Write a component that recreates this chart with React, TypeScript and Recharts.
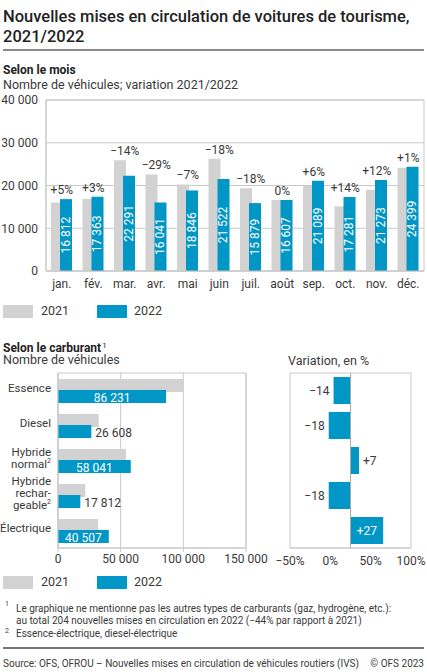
import type { ReactNode } from 'react'
import {
  ComposedChart, BarChart, Bar, Line, XAxis, YAxis,
  CartesianGrid, LabelList, ReferenceArea, ReferenceLine,
} from 'recharts'

// monthly registrations
const MONTHS = ['jan.', 'fév.', 'mar.', 'avr.', 'mai', 'juin', 'juil.', 'août', 'sep.', 'oct.', 'nov.', 'déc.']
const MONTH_2021 = [16010, 16860, 25920, 22590, 20260, 26250, 19370, 16610, 19900, 15160, 18990, 24160]
const MONTH_2022 = [16812, 17363, 22291, 16041, 18846, 21522, 15879, 16607, 21089, 17281, 21273, 24399]
const MONTH_VAR = ['+5%', '+3%', '−14%', '−29%', '−7%', '−18%', '−18%', '0%', '+6%', '+14%', '+12%', '+1%']
const MONTH_TICKS = [0, 10000, 20000, 30000, 40000]

// by fuel
const FUELS = ['Essence', 'Diesel', 'Hybride normal', 'Hybride rechargeable', 'Électrique']
const FUEL_LINES = [['Essence'], ['Diesel'], ['Hybride', 'normal'], ['Hybride', 'rechar-', 'geable'], ['Électrique']]
const FUEL_NOTES = ['', '', '2', '2', '']
const FUEL_2021 = [100270, 32450, 54240, 21720, 31900]
const FUEL_2022 = [86231, 26608, 58041, 17812, 40507]
const FUEL_VAR = [-14, -18, 7, -18, 27]
const FUEL_TICKS = [0, 50000, 100000, 150000]
const VAR_TICKS = [-50, 0, 50, 100]

const BLUE = '#0096c6'
const GREY = '#d2d2d2'
const GRID = '#c9c9c9'
const TXT = '#3a3a3a'
const FONT = 'Roboto, "Noto Sans", sans-serif'

const fmt = (n: number) => String(n).replace(/\B(?=(\d{3})+(?!\d))/g, ' ')
const fmtPct = (v: number) => (v < 0 ? '−' : '') + Math.abs(v) + '%'
const fmtVar = (v: number) => (v > 0 ? '+' : v < 0 ? '−' : '') + Math.abs(v)

const monthData = MONTHS.map((m, i) => ({
  m, y2021: MONTH_2021[i], y2022: MONTH_2022[i],
  top: Math.max(MONTH_2021[i], MONTH_2022[i]), pct: MONTH_VAR[i],
}))

const fuelData = FUELS.map((name, i) => ({
  name, y2021: FUEL_2021[i], y2022: FUEL_2022[i], v: FUEL_VAR[i],
}))

function box(props: any) {
  const vb = props.viewBox ?? {}
  const x = props.x ?? vb.x, y = props.y ?? vb.y
  const w = props.width ?? vb.width, h = props.height ?? vb.height
  return { left: Math.min(x, x + w), right: Math.max(x, x + w), top: Math.min(y, y + h), bottom: Math.max(y, y + h) }
}

function VerticalValue(props: any) {
  const b = box(props)
  const cx = (b.left + b.right) / 2, cy = (b.top + b.bottom) / 2
  return (
    <text x={cx} y={cy} transform={`rotate(-90 ${cx} ${cy})`} textAnchor="middle"
          dominantBaseline="central" fill="#fff" fontSize={12} fontFamily={FONT}>
      {fmt(props.value)}
    </text>
  )
}

function FuelValue(props: any) {
  const b = box(props)
  const cy = (b.top + b.bottom) / 2
  const inside = props.value >= 35000
  return (
    <text x={inside ? (b.left + b.right) / 2 : b.right + 4} y={cy + 1} textAnchor={inside ? 'middle' : 'start'}
          dominantBaseline="central" fill={inside ? '#fff' : TXT} fontSize={12} fontFamily={FONT}>
      {fmt(props.value)}
    </text>
  )
}

function VarValue(props: any) {
  const b = box(props)
  const cy = (b.top + b.bottom) / 2
  const v = props.value as number
  let x = b.left - 4, anchor = 'end', fill = TXT
  if (v > 0 && v < 15) { x = b.right + 4; anchor = 'start' }
  if (v >= 15) { x = (b.left + b.right) / 2; anchor = 'middle'; fill = '#fff' }
  return (
    <text x={x} y={cy} textAnchor={anchor} dominantBaseline="central" fill={fill}
          fontSize={12} fontFamily={FONT}>
      {fmtVar(v)}
    </text>
  )
}

function FuelTick(props: any) {
  const { y, payload } = props
  const x = 51
  const i = FUELS.indexOf(payload.value)
  const lines = FUEL_LINES[i]
  const note = FUEL_NOTES[i]
  const lh = 12.3
  return (
    <text x={x} y={y} textAnchor="end" fill={TXT} fontSize={11.5} fontFamily={FONT}>
      {lines.map((l, k) => (
        <tspan key={k} x={x} dy={k === 0 ? -((lines.length - 1) * lh) / 2 + 1.5 : lh}>
          {l}
          {k === lines.length - 1 && note && <tspan fontSize={7} dy={-5}>{note}</tspan>}
        </tspan>
      ))}
    </text>
  )
}

function T({ x, y, size = 12, weight = 400, color = TXT, right, children }: {
  x: number, y: number, size?: number, weight?: number, color?: string, right?: boolean, children: ReactNode,
}) {
  const lh = size * 1.25
  return (
    <div style={{
      position: 'absolute', top: y - lh / 2, lineHeight: `${lh}px`, fontSize: size, fontWeight: weight,
      color, whiteSpace: 'nowrap', ...(right ? { right: 427 - x } : { left: x }),
    }}>{children}</div>
  )
}

function Legend({ y }: { y: number }) {
  return (
    <>
      <div style={{ position: 'absolute', left: 3, top: y - 6.5, width: 30, height: 13, background: GREY }} />
      <T x={41} y={y} size={12.5}>2021</T>
      <div style={{ position: 'absolute', left: 97, top: y - 6.5, width: 30, height: 13, background: BLUE }} />
      <T x={134} y={y} size={12.5}>2022</T>
    </>
  )
}

const tickStyle = { fontSize: 12, fill: TXT, fontFamily: FONT }

export default function App() {
  return (
    <div style={{ position: 'absolute', left: 0, top: 0, width: 427, height: 672, background: '#fff', fontFamily: FONT, overflow: 'hidden' }}>
      <div style={{ position: 'absolute', left: 3, top: 7, fontSize: 16.5, lineHeight: '20px', fontWeight: 500, color: '#222' }}>
        Nouvelles mises en circulation de voitures de tourisme,<br />2021/2022
      </div>
      <div style={{ position: 'absolute', left: 3, top: 49, width: 421, height: 1.5, background: '#8a8a8a' }} />

      <T x={3} y={70} weight={700} color="#222">Selon le mois</T>
      <T x={3} y={85} size={12.5}>Nombre de véhicules; variation 2021/2022</T>

      <div style={{ position: 'absolute', left: 0, top: 90 }}>
        <ComposedChart width={427} height={206} data={monthData} barSize={12} barGap={-3}
                       margin={{ top: 10, right: 3, bottom: 0, left: 0 }}>
          <CartesianGrid vertical={false} stroke={GRID} />
          <ReferenceArea y1={0} y2={40000} fill="none" stroke={GRID} />
          <XAxis dataKey="m" interval={0} tickLine={false} axisLine={{ stroke: GRID }} tick={tickStyle} height={25} />
          <YAxis domain={[0, 40000]} ticks={MONTH_TICKS} tickFormatter={fmt} width={46}
                 tickLine={false} axisLine={{ stroke: GRID }} tick={tickStyle} />
          <Bar dataKey="y2021" fill={GREY} isAnimationActive={false} />
          <Bar dataKey="y2022" fill={BLUE} isAnimationActive={false}>
            <LabelList dataKey="y2022" content={VerticalValue} />
          </Bar>
          <Line dataKey="top" stroke="none" dot={false} activeDot={false} legendType="none" isAnimationActive={false}>
            <LabelList dataKey="pct" position="top" offset={5} fill={TXT} fontSize={12} fontFamily={FONT} />
          </Line>
        </ComposedChart>
      </div>

      <Legend y={311} />

      <T x={3} y={345} weight={700} color="#222">
        Selon le carburant<sup style={{ fontSize: 8, fontWeight: 400, verticalAlign: 4, marginLeft: 1 }}>1</sup>
      </T>
      <T x={3} y={360} size={12.5}>Nombre de véhicules</T>
      <T x={288} y={361} size={12.5}>Variation, en %</T>

      <div style={{ position: 'absolute', left: 0, top: 365 }}>
        <BarChart layout="vertical" width={280} height={208} data={fuelData} barSize={13} barGap={-2}
                  margin={{ top: 8, right: 34, bottom: 0, left: 0 }}>
          <CartesianGrid horizontal={false} stroke={GRID} />
          <ReferenceArea x1={0} x2={150000} fill="none" stroke={GRID} />
          <XAxis type="number" domain={[0, 150000]} ticks={FUEL_TICKS} tickFormatter={fmt}
                 tickSize={4} tickLine={{ stroke: GRID }} axisLine={{ stroke: GRID }} tick={tickStyle} height={25} />
          <YAxis type="category" dataKey="name" width={58} interval={0} tickLine={false}
                 axisLine={{ stroke: GRID }} tick={<FuelTick />} />
          <Bar dataKey="y2021" fill={GREY} isAnimationActive={false} />
          <Bar dataKey="y2022" fill={BLUE} isAnimationActive={false}>
            <LabelList dataKey="y2022" content={FuelValue} />
          </Bar>
        </BarChart>
      </div>

      <div style={{ position: 'absolute', left: 262, top: 365 }}>
        <BarChart layout="vertical" width={165} height={208} data={fuelData} barSize={27}
                  margin={{ top: 8, right: 16, bottom: 0, left: 28 }}>
          <XAxis xAxisId="lbl" type="number" domain={[-50, 100]} allowDataOverflow ticks={VAR_TICKS}
                 tickFormatter={fmtPct} tickLine={false} axisLine={{ stroke: GRID }} tick={tickStyle} height={25} />
          <XAxis xAxisId="bars" type="number" domain={[-50, 50]} hide height={0} />
          <YAxis type="category" dataKey="name" hide />
          <ReferenceArea xAxisId="bars" x1={-50} x2={50} fill="none" stroke={GRID} />
          <ReferenceLine xAxisId="bars" x={0} stroke="#aaa" />
          <Bar xAxisId="bars" dataKey="v" fill={BLUE} isAnimationActive={false}>
            <LabelList dataKey="v" content={VarValue} />
          </Bar>
        </BarChart>
      </div>

      <Legend y={582} />

      <T x={5} y={604} size={7}>1</T>
      <T x={16} y={609} size={10}>Le graphique ne mentionne pas les autres types de carburants (gaz, hydrogène, etc.):</T>
      <T x={16} y={621} size={10}>au total 204 nouvelles mises en circulation en 2022 (−44% par rapport à 2021)</T>
      <T x={5} y={631} size={7}>2</T>
      <T x={16} y={634} size={10}>Essence-électrique, diesel-électrique</T>
      <div style={{ position: 'absolute', left: 3, top: 647, width: 421, height: 1.5, background: '#777' }} />
      <T x={3} y={664} size={10}>Source: OFS, OFROU – Nouvelles mises en circulation de véhicules routiers (IVS)</T>
      <T x={424} y={664} size={10} right>© OFS 2023</T>
    </div>
  )
}
